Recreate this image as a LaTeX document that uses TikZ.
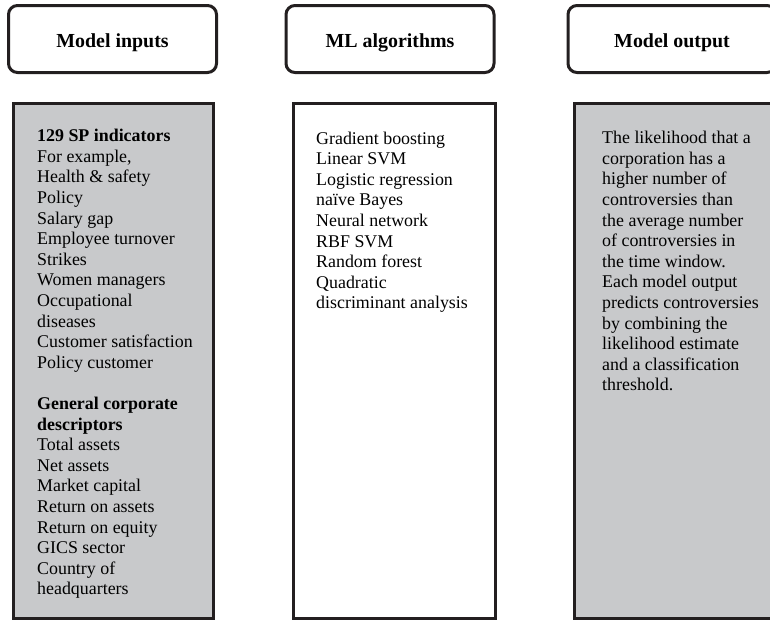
\documentclass[tikz,border=0pt]{standalone}
\usepackage{fontspec}
\setmainfont{Liberation Serif}
\usetikzlibrary{positioning}
\definecolor{boxgray}{RGB}{200,201,203}
\definecolor{inkblack}{RGB}{35,31,32}
\tikzset{
    head/.style = {
        draw = inkblack,
        line width = 3pt,
        rounded corners = 9pt,
        minimum width = 208pt,
        minimum height = 67pt,
        text height = 21pt,
        text depth = 4pt,
        font = \fontsize{19.9}{24}\selectfont\bfseries,
        },
    listbox/.style = {
        draw = inkblack,
        line width = 3pt,
        minimum height = 515pt,
        anchor = north west,
        },
    shaded/.style = {
        fill = boxgray,
        },
    listtext/.style = {
        anchor = north west,
        align = left,
        inner sep = 0pt,
        font = \fontsize{17.9}{20.6}\selectfont,
        },
}
\begin{document}
\begin{tikzpicture}[x=1pt, y=1pt]
    \useasboundingbox (0,0) rectangle (770,-622);

    \node[head] (inhead) at (112.5,-39) {Model inputs};
    \node[head] (mlhead) at (390,-39) {ML algorithms};
    \node[head] (outhead) at (672,-39) {Model output};

    \node[listbox, shaded, minimum width=200pt] (inbox) at (12,-102) {};
    \node[listbox, minimum width=202pt] (mlbox) at (292,-102) {};
    \node[listbox, shaded, minimum width=210pt] (outbox) at (573,-102) {};

    \node[listtext, below right=27pt and 25pt of inbox.north west] (intext) {%
        \textbf{129 SP indicators}\\
        For example,\\
        Health \& safety\\
        Policy\\
        Salary gap\\
        Employee turnover\\
        Strikes\\
        Women managers\\
        Occupational\\
        diseases\\
        Customer satisfaction\\
        Policy customer\\[20.6pt]
        \textbf{General corporate}\\
        \textbf{descriptors}\\
        Total assets\\
        Net assets\\
        Market capital\\
        Return on assets\\
        Return on equity\\
        GICS sector\\
        Country of\\
        headquarters};
    \node[listtext, below right=29.5pt and 24pt of mlbox.north west] (mltext) {%
        Gradient boosting\\
        Linear SVM\\
        Logistic regression\\
        naïve Bayes\\
        Neural network\\
        RBF SVM\\
        Random forest\\
        Quadratic\\
        discriminant analysis};
    \node[listtext, below right=29pt and 29pt of outbox.north west] (outtext) {%
        The likelihood that a\\
        corporation has a\\
        higher number of\\
        controversies than\\
        the average number\\
        of controversies in\\
        the time window.\\
        Each model output\\
        predicts controversies\\
        by combining the\\
        likelihood estimate\\
        and a classification\\
        threshold.};
\end{tikzpicture}
\end{document}
